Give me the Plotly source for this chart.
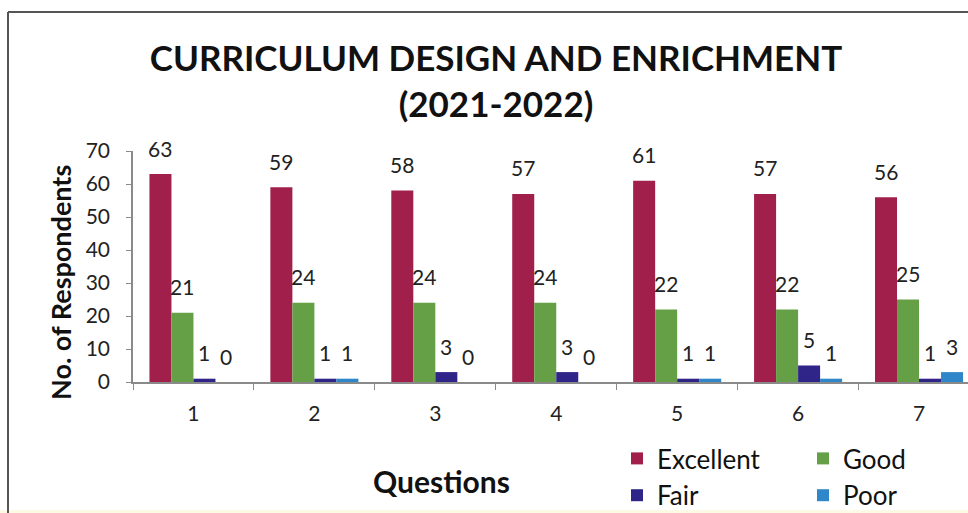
import plotly.graph_objects as go

# Survey results per question
questions = ["1", "2", "3", "4", "5", "6", "7"]
excellent = [63, 59, 58, 57, 61, 57, 56]
good = [21, 24, 24, 24, 22, 22, 25]
fair = [1, 1, 3, 3, 1, 5, 1]
poor = [0, 1, 0, 0, 1, 1, 3]

# name, values, colour, legend box (two legend columns)
series = [
    ("Excellent", excellent, "#A01F4B", "legend"),
    ("Good", good, "#65A047", "legend2"),
    ("Fair", fair, "#2F2487", "legend"),
    ("Poor", poor, "#2F87C9", "legend2"),
]

FONT = "Lato"
W, H = 968, 513
MB = 120           # bottom margin: room for tick labels and legend boxes
PH = H - MB        # plot-area height in pixels
bar_px = 22        # width of a single bar in pixels


def px_x(px):
    return px / W


def px_y(py):
    return 1 - py / PH


fig = go.Figure()
annotations = []
for i, (name, vals, color, leg) in enumerate(series):
    fig.add_trace(go.Bar(
        x=questions, y=vals, name=name, legend=leg, legendgroup=name,
        marker=dict(color=color, line=dict(width=0)),
    ))
    # value labels centred above each bar (category axis -> index positions)
    for j, v in enumerate(vals):
        annotations.append(dict(
            x=j, y=v, xref="x", yref="y", text=str(v), showarrow=False,
            xshift=(i - 1.5) * bar_px, yshift=26, yanchor="middle",
            xanchor="center",
            font=dict(family=FONT, size=21, color="#222"),
        ))

# axis titles
annotations.append(dict(
    x=px_x(60), y=px_y(283), xref="paper", yref="paper",
    xanchor="center", yanchor="middle",
    text="<b>No. of Respondents</b>", textangle=-90, showarrow=False,
    font=dict(family=FONT, size=27, color="#111"),
))
annotations.append(dict(
    x=px_x(441), y=px_y(481), xref="paper", yref="paper",
    xanchor="center", yanchor="middle",
    text="<b>Questions</b>", showarrow=False,
    font=dict(family=FONT, size=30, color="#111"),
))

shapes = [
    # chart frame (top and left edges)
    dict(type="line", xref="paper", yref="paper", x0=px_x(8), x1=1.0,
         y0=px_y(12), y1=px_y(12), line=dict(color="#555", width=2)),
    dict(type="line", xref="paper", yref="paper", x0=px_x(8), x1=px_x(8),
         y0=px_y(H), y1=px_y(12), line=dict(color="#555", width=2)),
    # pale strip along the bottom edge
    dict(type="rect", xref="paper", yref="paper", x0=0, x1=1,
         y0=px_y(H), y1=px_y(H - 3), fillcolor="#FCFAE4", line=dict(width=0),
         layer="below"),
]

legend_common = dict(
    orientation="v", xref="paper", yref="paper",
    xanchor="left", yanchor="top",
    font=dict(family=FONT, size=26, color="#111"),
    itemwidth=30, tracegroupgap=0, traceorder="grouped",
    bgcolor="rgba(0,0,0,0)", borderwidth=0,
)

fig.update_layout(
    width=W, height=H,
    margin=dict(l=0, r=0, t=0, b=MB, autoexpand=False),
    paper_bgcolor="white", plot_bgcolor="white",
    barmode="group", bargap=0.272, bargroupgap=0,
    title=dict(
        text="<b>CURRICULUM DESIGN AND ENRICHMENT<br>(2021-2022)</b>",
        x=496 / W, xanchor="center", y=1 - 71 / H, yanchor="middle",
        font=dict(family=FONT, size=35, color="#111"),
    ),
    xaxis=dict(
        domain=[px_x(133), 1.0], range=[-0.5, 6.405],
        showline=True, linecolor="#8A8A8A", linewidth=1.5,
        ticks="outside", tickson="boundaries", ticklen=6, tickcolor="#8A8A8A",
        ticklabelstandoff=12, showgrid=False, zeroline=False, automargin=False,
        tickfont=dict(family=FONT, size=21, color="#222"),
    ),
    yaxis=dict(
        domain=[px_y(382), px_y(151)], range=[0, 70], dtick=10,
        showline=True, linecolor="#8A8A8A", linewidth=1.5,
        ticks="outside", ticklen=5, tickcolor="#8A8A8A",
        ticklabelstandoff=12,
        showgrid=False, zeroline=False, automargin=False,
        tickfont=dict(family=FONT, size=21, color="#222"),
    ),
    legend=dict(x=px_x(617), y=px_y(435), **legend_common),
    legend2=dict(x=px_x(803), y=px_y(435), **legend_common),
    annotations=annotations,
    shapes=shapes,
)

fig.write_html("out.html")
